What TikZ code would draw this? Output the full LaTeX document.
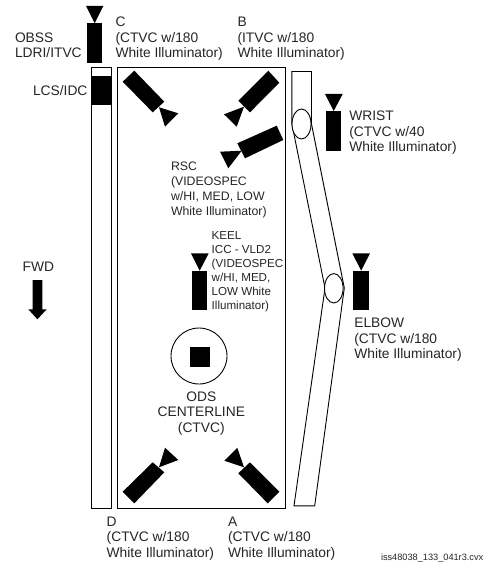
\documentclass[tikz,border=0pt]{standalone}
\usepackage{fontspec}
\setmainfont{Liberation Sans}
\tikzset{
  lbl/.style={inner sep=0pt,outer sep=0pt,align=left,anchor=north west,font=\fontsize{13.8}{15.5}\selectfont,text=black!85},
  lblc/.style={lbl,align=center,anchor=north},
  fillb/.style={fill=black,draw=none},
  ln/.style={draw=black,line width=0.9pt,fill=white},
}
\begin{document}
\begin{tikzpicture}[x=1pt,y=-1pt]
\useasboundingbox[fill=white] (0,0) rectangle (485,564);
% structure boxes
\draw[ln] (91.7,67.5) rectangle (111.3,508.5);
\path[fillb] (91.7,76.3) rectangle (111.3,105.3);
\draw[ln] (117,67.5) rectangle (285.7,508.5);
% arm
\draw[ln,line join=miter] (291.9,71.5) -- (311.5,71.5) -- (311.5,124) -- (344.3,288) -- (314.7,505.8) -- (294,505.8) -- (325,288) -- (291.9,124) -- cycle;
\draw[ln] (301.5,124) ellipse (9.5 and 15);
\draw[ln] (333.8,288.3) ellipse (9.3 and 14.7);
% cameras, upright
\path[fillb] (87,23.3) rectangle (102,63.3);
\path[fillb] (94.7,23.3) -- (86,6) -- (103.3,6) -- cycle;
\path[fillb] (325.7,111) rectangle (341,150.7);
\path[fillb] (333.7,111) -- (325,94) -- (342.7,94) -- cycle;
\path[fillb] (191.7,270.7) rectangle (207.3,310);
\path[fillb] (199.7,270.7) -- (191,253.3) -- (208.7,253.3) -- cycle;
\path[fillb] (353.3,270.7) rectangle (369,310);
\path[fillb] (361.2,270.7) -- (352.3,253.3) -- (370,253.3) -- cycle;
% cameras, angled
\path[fillb] (122.7,81.7) -- (134.3,70.7) -- (164.3,101.7) -- (152.7,112.3) -- cycle;
\path[fillb] (159,107.3) -- (178.3,113.3) -- (165,126.7) -- cycle;
\path[fillb] (279.3,82.7) -- (268.3,70.7) -- (238.3,100.7) -- (250,112.3) -- cycle;
\path[fillb] (244,106.7) -- (224,114.3) -- (236.7,126.7) -- cycle;
\path[fillb] (276.7,125.7) -- (283.3,140) -- (245,158.3) -- (237.3,143.3) -- cycle;
\path[fillb] (241.7,150.7) -- (220,151.7) -- (228.3,168.3) -- cycle;
\path[fillb] (122.7,491.7) -- (134.3,503.3) -- (164.3,472.3) -- (152.7,462.3) -- cycle;
\path[fillb] (159,467.3) -- (178.3,460) -- (165,447.7) -- cycle;
\path[fillb] (279.3,491.7) -- (267.7,503.3) -- (238.3,473.3) -- (250,462.3) -- cycle;
\path[fillb] (244,467.3) -- (224.3,460.7) -- (237.3,447.7) -- cycle;
% ODS
\draw[ln] (199,356) circle (28);
\path[fillb] (189.7,347) rectangle (210,367.3);
% FWD arrow
\path[fillb] (32.7,280) -- (42.3,280) -- (42.3,309.3) -- (46.7,309.3) -- (37.4,319.3) -- (28.3,309.3) -- (32.7,309.3) -- cycle;
% labels
\node[lbl] (obss) at (15,32.7) {OBSS\\LDRI/ITVC};
\node[lbl] (lcs) at (33,86) {LCS/IDC};
\node[lbl] (c) at (115.5,17.3) {C\\(CTVC w/180\\White Illuminator)};
\node[lbl] (b) at (237.5,17.3) {B\\(ITVC w/180\\White Illuminator)};
\node[lbl,font=\fontsize{12.3}{15}\selectfont] (rsc) at (171,162.3) {RSC\\(VIDEOSPEC\\w/HI, MED, LOW\\White Illuminator)};
\node[lbl] (wrist) at (349.3,111) {WRIST\\(CTVC w/40\\White Illuminator)};
\node[lbl,font=\fontsize{11.6}{14}\selectfont] (keel) at (211.7,232) {KEEL\\ICC - VLD2\\(VIDEOSPEC\\w/HI, MED,\\LOW White\\Illuminator)};
\node[lbl] (elbow) at (354.3,318) {ELBOW\\(CTVC w/180\\White Illuminator)};
\node[lblc] (ods) at (201.3,391.7) {ODS\\CENTERLINE\\(CTVC)};
\node[lbl] (fwd) at (22.7,262) {FWD};
\node[lbl] (d) at (106.7,516.7) {D\\(CTVC w/180\\White Illuminator)};
\node[lbl] (a) at (228,516.7) {A\\(CTVC w/180\\White Illuminator)};
\node[lbl,font=\fontsize{9.2}{10}\selectfont] (id) at (381,553.5) {iss48038\_133\_041r3.cvx};
\end{tikzpicture}
\end{document}
